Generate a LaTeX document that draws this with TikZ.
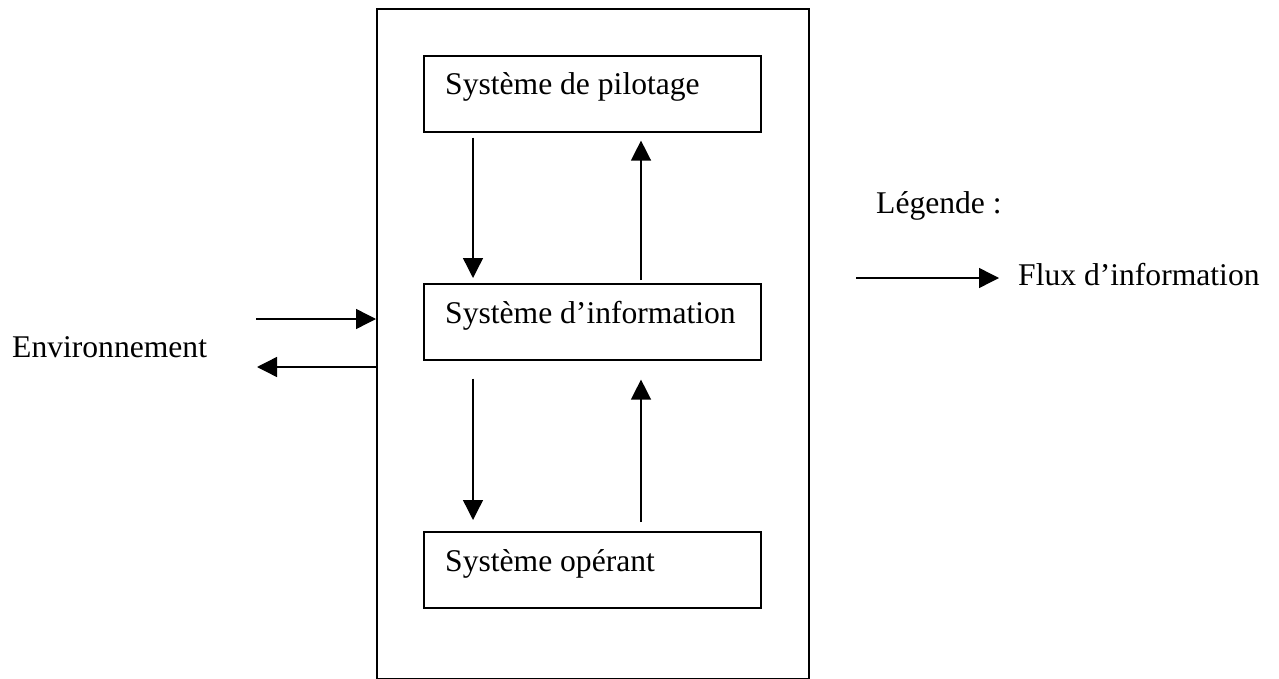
\documentclass[tikz,border=0pt]{standalone}
\usepackage{fontspec}
\setmainfont{Liberation Serif}
\usetikzlibrary{arrows.meta,calc}
\begin{document}
\begin{tikzpicture}[x=1pt,y=-1pt,
  frame/.style={draw, line width=1.6pt},
  box/.style={draw, line width=1.6pt, minimum width=337pt, minimum height=76pt, anchor=north west, inner sep=0pt},
  lbl/.style={anchor=base west, inner sep=0pt, font=\fontsize{31.6pt}{38pt}\selectfont},
  flow/.style={line width=1.4pt, -{Triangle[length=20pt,width=20pt]}}]
\useasboundingbox (0,0) rectangle (1279,679);

% enclosing system frame
\node[draw, line width=1.6pt, minimum width=432pt, minimum height=670pt, anchor=north west, inner sep=0pt] (sys) at (376,8) {};

% the three subsystems
\node[box] (pil) at (423,55) {};
\node[box] (inf) at (423,283) {};
\node[box] (ope) at (423,531) {};
\node[lbl] (tpil) at (445,95) {Système de pilotage};
\node[lbl] (tinf) at (445,323) {Système d’information};
\node[lbl] (tope) at (445,571) {Système opérant};

% flows between subsystems
\draw[flow] ($(pil.south west)+(50,5)$) -- ($(inf.north west)+(50,-5)$);
\draw[flow] ($(inf.north west)+(218,-3)$) -- ($(pil.south west)+(218,8)$);
\draw[flow] ($(inf.south west)+(50,18)$) -- ($(ope.north west)+(50,-11)$);
\draw[flow] ($(ope.north west)+(218,-9)$) -- ($(inf.south west)+(218,19)$);

% exchanges with the environment
\node[lbl] (env) at (12,357) {Environnement};
\coordinate (ein) at (256,319);
\coordinate (eout) at (257,367);
\draw[flow] (ein) -- (ein -| sys.west);
\draw[flow] (eout -| sys.west) -- (eout);

% legend
\node[lbl] (leg) at (876,213) {Légende :};
\coordinate (lgs) at (856,278);
\node[lbl] (flux) at (1018,285) {Flux d’information};
\draw[flow] (lgs) -- (lgs -| 999,0);
\end{tikzpicture}
\end{document}
